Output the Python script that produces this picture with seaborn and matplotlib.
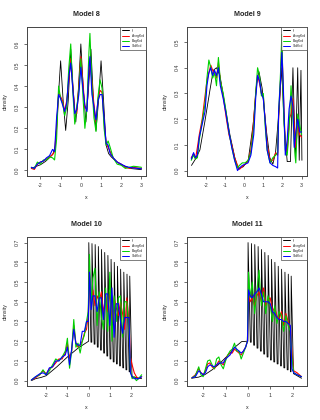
import numpy as np
import matplotlib
matplotlib.use("Agg")
import matplotlib.pyplot as plt
import seaborn as sns

# ========== Data ==========
labels = ["f", "AvrgKrd", "BagKrd", "StdKrd"]
colors = ["black", "red", "#00d000", "blue"]

# --- Model 8 ---
x8_f = [-2.45, -2.2, -2.0, -1.75, -1.5, -1.375, -1.25, -1.125, -1.0, -0.875, -0.75, -0.625,
        -0.5, -0.375, -0.25, -0.125, 0.0, 0.125, 0.25, 0.375, 0.5, 0.625, 0.75, 0.875,
        1.0, 1.125, 1.25, 1.375, 1.5, 1.75, 2.0, 2.5, 3.0]
y8_f = [0.010, 0.020, 0.027, 0.043, 0.065, 0.080, 0.120, 0.330, 0.520, 0.330, 0.190, 0.330,
        0.575, 0.380, 0.230, 0.380, 0.600, 0.380, 0.230, 0.380, 0.575, 0.330, 0.190, 0.330,
        0.520, 0.330, 0.120, 0.080, 0.065, 0.043, 0.027, 0.009, 0.004]
x8 = [-2.45, -2.3, -2.15, -2.0, -1.85, -1.7, -1.55, -1.4, -1.3, -1.2,
      -1.1, -1.0, -0.9, -0.8, -0.7, -0.6, -0.5, -0.4, -0.3, -0.2,
      -0.1, 0.0, 0.1, 0.2, 0.3, 0.4, 0.45, 0.55, 0.65, 0.75,
      0.85, 0.95, 1.05, 1.15, 1.25, 1.35, 1.45, 1.6, 1.8, 2.0,
      2.2, 2.4, 2.6, 2.8, 3.0]
y8_a = [0.010, 0.005, 0.030, 0.040, 0.045, 0.055, 0.065, 0.075, 0.090, 0.200,
        0.370, 0.350, 0.330, 0.280, 0.330, 0.420, 0.530, 0.400, 0.280, 0.270,
        0.400, 0.540, 0.420, 0.300, 0.290, 0.470, 0.530, 0.420, 0.310, 0.230,
        0.340, 0.380, 0.370, 0.230, 0.130, 0.110, 0.090, 0.060, 0.040, 0.030,
        0.015, 0.010, 0.015, 0.012, 0.010]
y8_b = [0.015, 0.010, 0.040, 0.030, 0.050, 0.050, 0.065, 0.060, 0.050, 0.150,
        0.400, 0.340, 0.320, 0.260, 0.300, 0.480, 0.600, 0.380, 0.220, 0.300,
        0.380, 0.530, 0.360, 0.200, 0.300, 0.560, 0.650, 0.400, 0.250, 0.185,
        0.350, 0.430, 0.390, 0.200, 0.120, 0.140, 0.110, 0.060, 0.030, 0.025,
        0.010, 0.015, 0.020, 0.018, 0.015]
y8_c = [0.015, 0.010, 0.030, 0.040, 0.045, 0.060, 0.070, 0.100, 0.090, 0.250,
        0.360, 0.340, 0.310, 0.280, 0.320, 0.440, 0.510, 0.390, 0.270, 0.290,
        0.360, 0.490, 0.390, 0.310, 0.280, 0.480, 0.540, 0.360, 0.300, 0.240,
        0.330, 0.360, 0.360, 0.250, 0.130, 0.120, 0.080, 0.060, 0.040, 0.030,
        0.020, 0.015, 0.012, 0.010, 0.008]

# --- Model 9 ---
x9_f = [-2.76, -2.55, -2.32, -2.06, -1.8, -1.62, -1.45, -1.27, -1.01, -0.75, -0.49, -0.31,
        -0.05, 0.21, 0.47, 0.65, 0.77, 0.94, 1.17, 1.34, 1.5, 1.64, 1.83, 1.96,
        2.09, 2.25, 2.42, 2.55, 2.68, 2.8, 2.88, 2.97, 3.02]
y9_f = [0.020, 0.045, 0.080, 0.190, 0.310, 0.390, 0.400, 0.370, 0.255, 0.140, 0.050, 0.007,
        0.015, 0.040, 0.180, 0.340, 0.385, 0.320, 0.150, 0.050, 0.025, 0.070, 0.240, 0.400,
        0.180, 0.035, 0.035, 0.400, 0.040, 0.400, 0.040, 0.390, 0.040]
x9 = [-2.77, -2.65, -2.55, -2.45, -2.35, -2.2, -2.05, -1.95, -1.85, -1.75,
      -1.65, -1.55, -1.45, -1.35, -1.25, -1.1, -0.95, -0.8, -0.65, -0.5,
      -0.35, -0.25, -0.1, 0.05, 0.2, 0.35, 0.5, 0.6, 0.7, 0.8,
      0.9, 1.0, 1.1, 1.2, 1.35, 1.5, 1.65, 1.75, 1.8, 1.9,
      1.97, 2.05, 2.15, 2.25, 2.35, 2.45, 2.55, 2.62, 2.7, 2.8,
      2.9, 3.0]
y9_a = [0.050, 0.065, 0.045, 0.090, 0.140, 0.200, 0.290, 0.350, 0.380, 0.410,
        0.390, 0.380, 0.360, 0.420, 0.350, 0.290, 0.210, 0.140, 0.100, 0.050,
        0.020, 0.005, 0.015, 0.025, 0.035, 0.080, 0.200, 0.300, 0.370, 0.340,
        0.300, 0.290, 0.190, 0.100, 0.040, 0.040, 0.070, 0.060, 0.200, 0.350,
        0.500, 0.300, 0.100, 0.070, 0.200, 0.220, 0.280, 0.170, 0.090, 0.180,
        0.140, 0.130]
y9_b = [0.040, 0.060, 0.045, 0.050, 0.120, 0.190, 0.260, 0.360, 0.430, 0.400,
        0.360, 0.380, 0.330, 0.440, 0.350, 0.300, 0.230, 0.150, 0.090, 0.040,
        0.010, 0.020, 0.030, 0.030, 0.040, 0.070, 0.170, 0.300, 0.400, 0.370,
        0.290, 0.300, 0.170, 0.080, 0.030, 0.050, 0.060, 0.070, 0.220, 0.380,
        0.530, 0.250, 0.080, 0.060, 0.160, 0.330, 0.200, 0.100, 0.030, 0.220,
        0.180, 0.140]
y9_c = [0.045, 0.070, 0.050, 0.060, 0.130, 0.180, 0.230, 0.330, 0.380, 0.400,
        0.370, 0.390, 0.370, 0.400, 0.330, 0.280, 0.220, 0.150, 0.090, 0.040,
        0.000, 0.010, 0.020, 0.025, 0.030, 0.060, 0.140, 0.280, 0.370, 0.350,
        0.300, 0.280, 0.190, 0.080, 0.030, 0.020, 0.015, 0.010, 0.230, 0.350,
        0.460, 0.320, 0.060, 0.120, 0.240, 0.290, 0.250, 0.090, 0.150, 0.200,
        0.150, 0.150]

# --- Model 10 ---
x10_fl = [-2.7, -2.5, -2.25, -2.0, -1.5, -1.0, -0.5, 0.0]
y10_fl = [0.000, 0.010, 0.016, 0.025, 0.070, 0.120, 0.165, 0.200]
tx10 = [0.00, 0.15, 0.30, 0.45, 0.60, 0.75, 0.90, 1.05, 1.20, 1.35, 1.50, 1.65, 1.80, 1.93]
tt10 = [0.700, 0.695, 0.690, 0.680, 0.665, 0.650, 0.635, 0.615, 0.600, 0.580, 0.565, 0.550, 0.540, 0.530]
tb10 = [0.195, 0.185, 0.170, 0.155, 0.140, 0.125, 0.110, 0.095, 0.085, 0.075, 0.065, 0.055, 0.045, 0.035]
x10_fr = [2.05, 2.5]
y10_fr = [0.020, 0.010]
x10 = [-2.7, -2.5, -2.3, -2.15, -2.0, -1.85, -1.7, -1.55, -1.4, -1.25,
       -1.1, -1.0, -0.9, -0.8, -0.7, -0.6, -0.5, -0.4, -0.3, -0.2,
       -0.1, -0.02, 0.04, 0.12, 0.2, 0.3, 0.4, 0.5, 0.6, 0.7,
       0.8, 0.9, 1.0, 1.1, 1.2, 1.3, 1.4, 1.5, 1.6, 1.7,
       1.8, 1.9, 1.97, 2.05, 2.15, 2.25, 2.35, 2.5]
y10_a = [0.003, 0.015, 0.030, 0.050, 0.035, 0.060, 0.070, 0.090, 0.110, 0.110,
         0.140, 0.190, 0.110, 0.150, 0.280, 0.190, 0.170, 0.180, 0.200, 0.240,
         0.260, 0.330, 0.540, 0.400, 0.460, 0.380, 0.430, 0.400, 0.450, 0.340,
         0.440, 0.350, 0.450, 0.300, 0.420, 0.370, 0.330, 0.400, 0.340, 0.260,
         0.420, 0.300, 0.120, 0.080, 0.040, 0.020, 0.010, 0.020]
y10_b = [0.003, 0.020, 0.030, 0.055, 0.030, 0.050, 0.080, 0.110, 0.100, 0.120,
         0.150, 0.215, 0.063, 0.150, 0.310, 0.170, 0.190, 0.140, 0.200, 0.230,
         0.300, 0.350, 0.640, 0.380, 0.520, 0.570, 0.280, 0.450, 0.320, 0.260,
         0.470, 0.250, 0.550, 0.200, 0.430, 0.300, 0.420, 0.430, 0.220, 0.400,
         0.400, 0.270, 0.050, 0.010, 0.020, 0.000, 0.010, 0.030]
y10_c = [0.003, 0.020, 0.035, 0.040, 0.030, 0.065, 0.070, 0.100, 0.100, 0.120,
         0.130, 0.170, 0.080, 0.160, 0.260, 0.190, 0.180, 0.180, 0.250, 0.250,
         0.300, 0.300, 0.550, 0.360, 0.430, 0.430, 0.350, 0.420, 0.420, 0.310,
         0.440, 0.440, 0.280, 0.470, 0.220, 0.390, 0.390, 0.300, 0.240, 0.320,
         0.320, 0.320, 0.040, 0.020, 0.010, 0.010, 0.010, 0.020]

# --- Model 11 ---
x11_fl = [-2.52, -2.2, -1.93, -1.6, -1.33, -1.1, -0.88, -0.58, -0.28, 0.0]
y11_fl = [0.012, 0.018, 0.030, 0.055, 0.080, 0.105, 0.130, 0.170, 0.198, 0.200]
tx11 = [0.00, 0.15, 0.30, 0.45, 0.60, 0.75, 0.90, 1.05, 1.20, 1.35, 1.50, 1.65, 1.80, 1.93]
tt11 = [0.700, 0.695, 0.690, 0.680, 0.665, 0.650, 0.635, 0.615, 0.600, 0.580, 0.565, 0.550, 0.540, 0.530]
tb11 = [0.195, 0.180, 0.165, 0.150, 0.135, 0.120, 0.105, 0.095, 0.085, 0.075, 0.065, 0.055, 0.045, 0.035]
x11_fr = [2.05, 2.4]
y11_fr = [0.035, 0.012]
x11 = [-2.5, -2.35, -2.2, -2.1, -2.0, -1.9, -1.8, -1.7, -1.6, -1.5,
       -1.4, -1.3, -1.2, -1.1, -1.0, -0.9, -0.8, -0.7, -0.6, -0.5,
       -0.4, -0.3, -0.2, -0.1, -0.02, 0.03, 0.1, 0.2, 0.3, 0.4,
       0.5, 0.6, 0.7, 0.8, 0.9, 1.0, 1.1, 1.2, 1.3, 1.4,
       1.5, 1.6, 1.7, 1.8, 1.9, 1.97, 2.05, 2.2, 2.4]
y11_a = [0.015, 0.030, 0.060, 0.040, 0.030, 0.050, 0.085, 0.090, 0.070, 0.060,
         0.080, 0.100, 0.090, 0.080, 0.110, 0.130, 0.140, 0.140, 0.160, 0.150,
         0.140, 0.130, 0.150, 0.170, 0.200, 0.450, 0.400, 0.420, 0.380, 0.430,
         0.450, 0.400, 0.470, 0.380, 0.410, 0.420, 0.350, 0.370, 0.330, 0.310,
         0.350, 0.280, 0.340, 0.300, 0.270, 0.150, 0.050, 0.040, 0.020]
y11_b = [0.015, 0.025, 0.070, 0.030, 0.020, 0.060, 0.100, 0.105, 0.080, 0.060,
         0.110, 0.120, 0.080, 0.060, 0.100, 0.130, 0.150, 0.160, 0.190, 0.150,
         0.150, 0.110, 0.140, 0.170, 0.200, 0.550, 0.420, 0.500, 0.340, 0.450,
         0.560, 0.380, 0.450, 0.340, 0.430, 0.380, 0.300, 0.380, 0.290, 0.350,
         0.330, 0.250, 0.330, 0.280, 0.250, 0.120, 0.040, 0.030, 0.020]
y11_c = [0.015, 0.020, 0.050, 0.040, 0.030, 0.040, 0.070, 0.080, 0.075, 0.070,
         0.080, 0.090, 0.090, 0.090, 0.110, 0.120, 0.130, 0.150, 0.170, 0.160,
         0.150, 0.140, 0.150, 0.170, 0.200, 0.460, 0.430, 0.420, 0.440, 0.450,
         0.470, 0.440, 0.400, 0.400, 0.400, 0.390, 0.350, 0.340, 0.320, 0.310,
         0.310, 0.300, 0.300, 0.290, 0.280, 0.060, 0.040, 0.030, 0.020]


def comb_curve(xl, yl, tx, tt, tb, xr, yr):
    # smooth left part, then the teeth (steep rise, slanted fall), then the right tail
    xs, ys = list(xl), list(yl)
    prev = yl[-1]
    for k in range(len(tx)):
        xs += [tx[k], tx[k] + 0.008, tx[k] + 0.11]
        ys += [prev, tt[k], tb[k]]
        prev = tb[k]
    return xs + list(xr), ys + list(yr)


x10_f, y10_f = comb_curve(x10_fl, y10_fl, tx10, tt10, tb10, x10_fr, y10_fr)
x11_f, y11_f = comb_curve(x11_fl, y11_fl, tx11, tt11, tb11, x11_fr, y11_fr)

panels = [
    ("Model 8", [(x8_f, y8_f), (x8, y8_a), (x8, y8_b), (x8, y8_c)],
     (-2.67, 3.22), (-0.026, 0.681), [-2, -1, 0, 1, 2, 3], [0.0, 0.1, 0.2, 0.3, 0.4, 0.5, 0.6]),
    ("Model 9", [(x9_f, y9_f), (x9, y9_a), (x9, y9_b), (x9, y9_c)],
     (-3.0, 3.28), (-0.021, 0.559), [-2, -1, 0, 1, 2, 3], [0.0, 0.1, 0.2, 0.3, 0.4, 0.5]),
    ("Model 10", [(x10_f, y10_f), (x10, y10_a), (x10, y10_b), (x10, y10_c)],
     (-2.91, 2.70), (-0.027, 0.729), [-2, -1, 0, 1, 2], [0.0, 0.1, 0.2, 0.3, 0.4, 0.5, 0.6, 0.7]),
    ("Model 11", [(x11_f, y11_f), (x11, y11_a), (x11, y11_b), (x11, y11_c)],
     (-2.73, 2.64), (-0.027, 0.729), [-2, -1, 0, 1, 2], [0.0, 0.1, 0.2, 0.3, 0.4, 0.5, 0.6, 0.7]),
]

# ========== Plot ==========
sns.set_style("ticks")
plt.rcParams["font.family"] = ["Liberation Sans", "DejaVu Sans"]

fig = plt.figure(figsize=(3.2, 4.2), dpi=100)
positions = [[0.084, 0.581, 0.372, 0.355], [0.584, 0.581, 0.375, 0.355],
             [0.084, 0.081, 0.372, 0.355], [0.584, 0.081, 0.375, 0.355]]

for pos, (title, curves, xlim, ylim, xt, yt) in zip(positions, panels):
    ax = fig.add_axes(pos)
    for (cx, cy), col, lab in zip(curves, colors, labels):
        lw = 0.6 if col == "black" else 0.8
        sns.lineplot(x=cx, y=cy, ax=ax, color=col, lw=lw, label=lab,
                     sort=False, estimator=None)
    ax.set_xlim(xlim)
    ax.set_ylim(ylim)
    ax.set_xticks(xt)
    ax.set_xticklabels([str(v) for v in xt])
    ax.set_yticks(yt)
    ax.set_yticklabels([f"{v:.1f}" for v in yt], rotation=90, va="center")
    ax.tick_params(labelsize=3.8, length=2.5, width=0.5, pad=2.5, colors="#333333")
    for s in ax.spines.values():
        s.set_visible(True)
        s.set_linewidth(0.7)
        s.set_color("#444444")
    ax.set_title(title, fontsize=5.2, fontweight="bold", pad=8)
    ax.set_xlabel("x", fontsize=3.8, labelpad=5)
    ax.set_ylabel("density", fontsize=3.8, labelpad=5)
    leg = ax.legend(loc="upper right", fontsize=2.4, frameon=True, fancybox=False,
                    borderaxespad=0, handlelength=2.2, handletextpad=0.8,
                    borderpad=0.5, labelspacing=0.35)
    leg.get_frame().set_edgecolor("#444444")
    leg.get_frame().set_linewidth(0.6)
    for ln in leg.get_lines():
        ln.set_linewidth(0.7)

fig.savefig("out.png", dpi=100)
